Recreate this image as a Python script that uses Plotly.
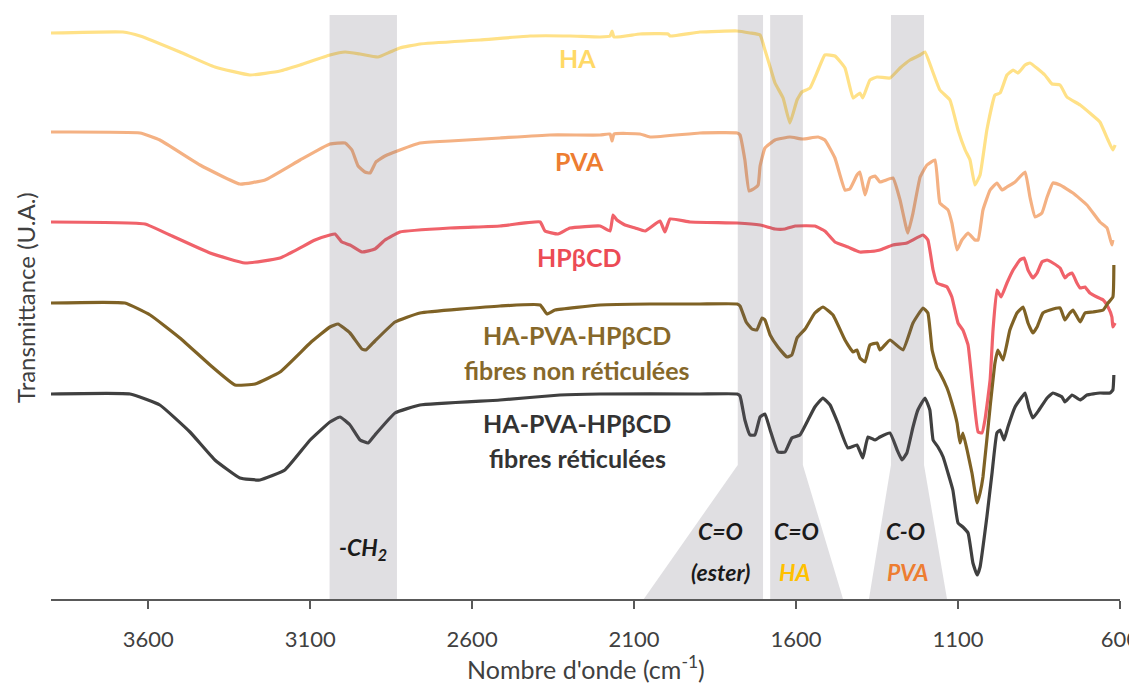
import plotly.graph_objects as go

# ---------------- data (wavenumber cm-1, transmittance in arbitrary offset units) ----------------
ha_x = [3900, 3678, 3625, 3502, 3394, 3286, 3193, 3131, 3039, 2992, 2946, 2891, 2853, 2823, 2761, 2576,
        2421, 2298, 2205, 2174, 2168, 2162, 2082, 1995, 1989, 1897, 1782, 1742, 1711, 1696, 1680, 1665,
        1640, 1619, 1597, 1582, 1557, 1532, 1511, 1480, 1449, 1424, 1403, 1394, 1372, 1350, 1310, 1279,
        1248, 1217, 1202, 1180, 1156, 1125, 1100, 1078, 1063, 1048, 1032, 1011, 986, 970, 949, 930, 915,
        893, 878, 832, 810, 785, 764, 723, 686, 662, 637, 622, 615]
ha_y = [566, 567, 563, 547, 532, 524, 528, 534, 544, 547, 545, 542, 547, 551, 555, 559,
        563, 563, 562, 563, 568, 562, 565, 565, 563, 567, 568, 566, 564, 549, 532, 516,
        501, 476, 499, 507, 511, 529, 544, 543, 531, 501, 506, 501, 519, 522, 521, 531,
        539, 544, 547, 529, 509, 499, 469, 449, 439, 414, 424, 469, 504, 506, 524, 529, 526,
        534, 536, 524, 515, 514, 502, 494, 484, 477, 459, 449, 454]

pva_x = [3900, 3625, 3564, 3440, 3317, 3239, 3131, 3039, 2992, 2971, 2952, 2931, 2915, 2897, 2869, 2823,
         2761, 2668, 2514, 2360, 2205, 2174, 2168, 2162, 2082, 2051, 1897, 1782, 1773, 1758, 1745, 1727,
         1717, 1711, 1696, 1665, 1619, 1579, 1532, 1511, 1480, 1449, 1434, 1412, 1403, 1387, 1372, 1356,
         1341, 1301, 1279, 1255, 1239, 1217, 1196, 1171, 1156, 1131, 1119, 1103, 1088, 1069, 1048, 1038,
         1023, 1001, 980, 964, 949, 924, 893, 878, 862, 841, 825, 807, 785, 745, 702, 662, 640, 625, 622]
pva_y = [467, 466, 459, 434, 415, 419, 439, 455, 456, 449, 433, 427, 426, 437, 443, 449,
         456, 458, 461, 464, 464, 465, 458, 465, 465, 462, 466, 466, 464, 439, 408, 411,
         414, 433, 451, 459, 462, 460, 462, 459, 441, 409, 410, 424, 427, 404, 421, 423,
         417, 421, 399, 366, 386, 422, 434, 439, 396, 389, 376, 349, 359, 366, 359, 359,
         389, 409, 416, 409, 412, 417, 427, 402, 382, 386, 402, 416, 414, 406, 394, 377, 371, 354, 359]

hp_x = [3900, 3610, 3533, 3409, 3301, 3193, 3085, 3039, 3023, 3002, 2977, 2940, 2900, 2869, 2823, 2668,
        2514, 2390, 2375, 2335, 2298, 2205, 2174, 2165, 2153, 2128, 2097, 2066, 2020, 2005, 1989, 1927,
        1782, 1711, 1665, 1634, 1603, 1542, 1511, 1480, 1440, 1403, 1356, 1341, 1301, 1258, 1208, 1193,
        1177, 1165, 1134, 1119, 1100, 1085, 1069, 1054, 1038, 1026, 1017, 1001, 992, 980, 967, 949, 930,
        909, 896, 884, 869, 856, 841, 825, 807, 785, 770, 761, 748, 733, 723, 708, 693, 671, 652, 637,
        625, 622, 615]
hp_y = [377, 375, 364, 346, 336, 341, 359, 364, 365, 357, 354, 347, 350, 359, 367, 371,
        373, 377, 368, 365, 371, 373, 368, 384, 379, 374, 371, 368, 378, 367, 380, 377,
        376, 374, 370, 370, 373, 373, 368, 357, 352, 347, 348, 349, 354, 356, 364, 359,
        329, 316, 312, 302, 276, 269, 254, 209, 167, 166, 179, 219, 269, 309, 302, 316, 329,
        339, 341, 329, 321, 326, 337, 339, 336, 331, 321, 324, 326, 316, 311, 312, 306, 302, 299, 292,
        282, 272, 276]

nr_x = [3900, 3672, 3594, 3502, 3409, 3332, 3270, 3193, 3100, 3039, 3014, 2977, 2940, 2928, 2900, 2838,
        2761, 2514, 2390, 2369, 2344, 2205, 2051, 1897, 1782, 1773, 1754, 1736, 1721, 1705, 1696, 1680,
        1656, 1628, 1613, 1597, 1572, 1542, 1517, 1486, 1449, 1424, 1412, 1403, 1387, 1372, 1350, 1341,
        1310, 1270, 1239, 1208, 1193, 1180, 1165, 1156, 1134, 1119, 1103, 1094, 1085, 1072, 1057, 1041,
        1032, 1023, 1001, 986, 977, 961, 940, 918, 899, 884, 869, 856, 838, 816, 785, 770, 755, 745, 723,
        708, 683, 652, 637, 622, 619]
nr_y = [296, 296, 284, 261, 234, 214, 215, 227, 256, 272, 275, 266, 250, 249, 258, 277,
        286, 293, 294, 285, 289, 294, 295, 295, 295, 293, 277, 270, 269, 281, 279, 264,
        252, 242, 244, 261, 270, 286, 292, 284, 259, 247, 249, 241, 237, 254, 256, 249,
        259, 249, 276, 291, 286, 249, 231, 226, 211, 196, 176, 156, 166, 149, 126, 96,
        106, 122, 192, 236, 249, 239, 269, 286, 292, 276, 266, 272, 286, 289, 291, 279, 286, 289, 277,
        286, 287, 289, 296, 302, 334]

r_x = [3900, 3656, 3564, 3471, 3394, 3317, 3255, 3178, 3100, 3039, 3008, 2977, 2946, 2921, 2900, 2838,
       2761, 2514, 2329, 2205, 1897, 1782, 1773, 1758, 1742, 1727, 1711, 1696, 1680, 1656, 1634, 1613,
       1588, 1563, 1542, 1517, 1495, 1471, 1440, 1412, 1394, 1378, 1356, 1341, 1310, 1288, 1273, 1258,
       1239, 1224, 1202, 1187, 1177, 1162, 1146, 1131, 1116, 1100, 1085, 1069, 1054, 1041, 1032, 1011,
       995, 980, 970, 958, 946, 924, 903, 893, 881, 869, 850, 825, 807, 779, 770, 748, 723, 702, 662,
       631, 622, 619]
r_y = [205, 205, 194, 167, 139, 121, 119, 129, 159, 177, 182, 174, 159, 156, 164, 186,
       194, 199, 204, 205, 205, 205, 203, 179, 164, 164, 182, 185, 169, 147, 147, 161,
       164, 179, 192, 201, 194, 176, 151, 154, 141, 162, 159, 162, 166, 149, 139, 146,
       172, 189, 201, 189, 159, 152, 142, 126, 109, 76, 72, 66, 36, 24, 32, 82,
       126, 166, 169, 159, 172, 192, 202, 206, 191, 181, 189, 201, 206, 202, 197, 204, 199, 204, 206,
       206, 209, 224]

series_names = ["HA", "PVA", "HP\u03b2CD", "HA-PVA-HP\u03b2CD fibres non r\u00e9ticul\u00e9es",
                "HA-PVA-HP\u03b2CD fibres r\u00e9ticul\u00e9es"]
series_colors = ["#FFE187", "#F4B183", "#F0626A", "#7F6225", "#404040"]

x_ticks = [3600, 3100, 2600, 2100, 1600, 1100, 600]

# ---------------- figure ----------------
FONT = "Lato"
fig = go.Figure()
for xs, ys, name, col in zip([ha_x, pva_x, hp_x, nr_x, r_x], [ha_y, pva_y, hp_y, nr_y, r_y],
                             series_names, series_colors):
    fig.add_trace(go.Scatter(x=xs, y=ys, mode="lines", name=name,
                             line=dict(color=col, width=3.2, shape="spline", smoothing=0.35),
                             hoverinfo="x+name"))

band = "rgba(100,95,110,0.2)"
TOP = 584
SLOPE = 134
shapes = [
    # -CH2 band
    dict(type="rect", x0=3040, x1=2832, y0=0, y1=TOP),
    # C=O ester
    dict(type="path", path=f"M 1780 {TOP} L 1780 {SLOPE} L 2070 0 L 1702 0 L 1702 {TOP} Z"),
    # C=O HA
    dict(type="path", path=f"M 1680 {TOP} L 1680 0 L 1455 0 L 1579 {SLOPE} L 1579 {TOP} Z"),
    # C-O PVA
    dict(type="path", path=f"M 1307 {TOP} L 1307 {SLOPE} L 1375 0 L 1134 0 L 1205 {SLOPE} L 1205 {TOP} Z"),
]
for s in shapes:
    s.update(xref="x", yref="y", fillcolor=band, line=dict(width=0), layer="above")
fig.update_layout(shapes=shapes)

def lab(text, x, y, color, size=25, italic=False):
    t = f"<b>{text}</b>"
    if italic:
        t = f"<i>{t}</i>"
    fig.add_annotation(x=x, y=y, xref="x", yref="y", text=t, showarrow=False,
                       font=dict(family=FONT, size=size, color=color), xanchor="center", yanchor="middle")

lab("HA", 2276, 541, "#FFD966")
lab("PVA", 2267, 438, "#ED7D31")
lab("HP\u03b2CD", 2270, 342, "#EC4B55")
lab("HA-PVA-HP\u03b2CD", 2276, 264, "#86682A")
lab("fibres non r\u00e9ticul\u00e9es", 2276, 229, "#86682A")
lab("HA-PVA-HP\u03b2CD", 2276, 176, "#333333")
lab("fibres r\u00e9ticul\u00e9es", 2276, 141, "#333333")
lab("-CH<sub>2</sub>", 2937, 51, "#1a1a1a", size=23, italic=True)
lab("C=O", 1832, 68, "#1a1a1a", size=23, italic=True)
lab("(ester)", 1832, 27, "#1a1a1a", size=23, italic=True)
lab("C=O", 1600, 68, "#1a1a1a", size=23, italic=True)
lab("HA", 1603, 27, "#FFC000", size=23, italic=True)
lab("C-O", 1261, 68, "#1a1a1a", size=23, italic=True)
lab("PVA", 1254, 27, "#ED7D31", size=23, italic=True)

# axis titles
fig.add_annotation(text="Transmittance (U.A.)", textangle=-90, xref="paper", yref="paper",
                   x=-0.0245, y=0.517, xanchor="center", yanchor="middle", showarrow=False,
                   font=dict(family=FONT, size=24, color="#404040"))
fig.add_annotation(text="Nombre d'onde (cm<sup>-1</sup>)", xref="paper", yref="paper",
                   x=0.5, y=-0.117, xanchor="center", yanchor="middle", showarrow=False,
                   font=dict(family=FONT, size=25, color="#404040"))

# the page body adds an 8px margin, so the figure is 8px smaller and its margins 8px tighter
fig.update_layout(
    width=1129, height=678,
    margin=dict(l=43, r=17, t=7, b=87),
    paper_bgcolor="white", plot_bgcolor="white",
    showlegend=False,
    font=dict(family=FONT, color="#404040"),
    xaxis=dict(range=[3900, 600], tickvals=x_ticks, ticktext=[str(v) for v in x_ticks],
               automargin=False, ticklabeloverflow="allow",
               showgrid=False, zeroline=False, showline=True, linecolor="#595959", linewidth=1.5,
               ticks="outside", ticklen=8, tickcolor="#595959", tickwidth=1.5,
               ticklabelstandoff=12,
               tickfont=dict(family=FONT, size=22, color="#404040")),
    yaxis=dict(range=[0, TOP], automargin=False, showgrid=False, zeroline=False, showline=False,
               showticklabels=False, ticks=""),
)

fig.write_html("out.html")
